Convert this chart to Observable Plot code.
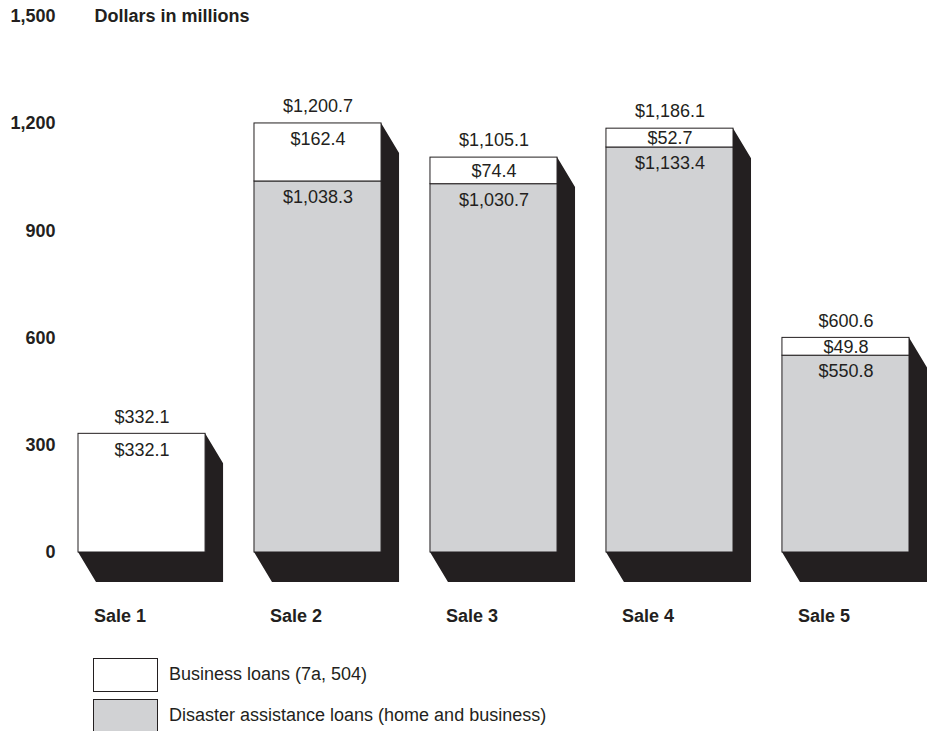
<!DOCTYPE html>
<html>
<head>
<meta charset="utf-8">
<script src="https://cdn.jsdelivr.net/npm/d3@7"></script>
<script src="https://cdn.jsdelivr.net/npm/@observablehq/plot@0.6"></script>
<style>
  body { margin: 0; background: #fff; font-family: "Liberation Sans", Arial, sans-serif; color: #231f20; }
  #legend { padding-left: 93px; margin-top: 8px; }
  .row { display: flex; align-items: center; height: 33px; margin-bottom: 8px; }
  .box { width: 63px; height: 32px; border: 1px solid #231f20; }
  .lbl { margin-left: 11px; font-size: 18px; }
</style>
</head>
<body>
<div id="chart"></div>
<div id="legend"></div>
<script>
const categories = ["Sale 1", "Sale 2", "Sale 3", "Sale 4", "Sale 5"];
const business = [332.1, 162.4, 74.4, 52.7, 49.8];
const disaster = [0, 1038.3, 1030.7, 1133.4, 550.8];
const totals = [332.1, 1200.7, 1105.1, 1186.1, 600.6];
const yTicks = [0, 300, 600, 900, 1200, 1500];
const seriesNames = ["Business loans (7a, 504)", "Disaster assistance loans (home and business)"];
const colors = { business: "#ffffff", disaster: "#d1d2d4", shadow: "#231f20", ink: "#231f20" };

const money = v => "$" + d3.format(",.1f")(v);

const totalRows = categories.map((c, i) => ({ cat: c, total: totals[i] }));
const segments = categories.flatMap((c, i) => [
  { cat: c, type: "disaster", y1: 0, y2: disaster[i], value: disaster[i] },
  { cat: c, type: "business", y1: disaster[i], y2: disaster[i] + business[i], value: business[i] }
]).filter(d => d.value > 0);

const DX = 18, DY = 30;

function shadowRender(index, scales, values, dimensions, context, next) {
  const g = next(index, scales, values, dimensions, context);
  const out = d3.create("svg:g");
  g.querySelectorAll("rect").forEach(r => {
    const x = +r.getAttribute("x"), y = +r.getAttribute("y");
    const w = +r.getAttribute("width"), h = +r.getAttribute("height");
    const L = x, R = x + w, T = y, B = y + h;
    out.append("path")
      .attr("d", `M${L},${B}L${L + DX},${B + DY}L${R + DX},${B + DY}L${R + DX},${T + DY}L${R},${T}L${R},${B}Z`)
      .attr("fill", colors.shadow);
  });
  return out.node();
}

const chart = Plot.plot({
  width: 931,
  height: 650,
  marginLeft: 78,
  marginRight: 22,
  marginTop: 16,
  marginBottom: 98,
  style: { fontFamily: '"Liberation Sans", Arial, sans-serif', fontSize: "18px", color: colors.ink, background: "#fff" },
  x: { domain: categories, paddingInner: 0.278, paddingOuter: 0, round: false, axis: null },
  y: { domain: [0, 1500], axis: null },
  marks: [
    Plot.barY(totalRows, { x: "cat", y: "total", fill: colors.shadow, render: shadowRender }),
    Plot.rectY(segments, { x: "cat", y1: "y1", y2: "y2", fill: d => colors[d.type], stroke: colors.ink, strokeWidth: 1 }),
    // segment labels (tall segments: near top; thin segments: centered)
    Plot.text(segments.filter(d => d.value >= 100), { x: "cat", y: "y2", text: d => money(d.value), dy: 16, fill: colors.ink, fontSize: 18 }),
    Plot.text(segments.filter(d => d.value < 100), { x: "cat", y: d => (d.y1 + d.y2) / 2, text: d => money(d.value), fill: colors.ink, fontSize: 18 }),
    Plot.text(totalRows, { x: "cat", y: "total", text: d => money(d.total), dy: -17, fill: colors.ink, fontSize: 18 }),
    Plot.axisY({ ticks: yTicks, tickSize: 0, tickPadding: 23, tickFormat: d3.format(","), fontWeight: "bold", fontSize: 18, label: null, fill: colors.ink }),
    Plot.text(categories, { x: d => d, frameAnchor: "bottom", lineAnchor: "middle", dy: 64, dx: -48, textAnchor: "start", fontWeight: "bold", fontSize: 18, fill: colors.ink }),
    Plot.text(["Dollars in millions"], { frameAnchor: "top-left", lineAnchor: "middle", dx: 16, textAnchor: "start", fontWeight: "bold", fontSize: 18, fill: colors.ink })
  ]
});
document.getElementById("chart").appendChild(chart);

const legend = d3.select("#legend");
[[seriesNames[0], colors.business], [seriesNames[1], colors.disaster]].forEach(([name, fill]) => {
  const row = legend.append("div").attr("class", "row");
  row.append("div").attr("class", "box").style("background", fill);
  row.append("div").attr("class", "lbl").text(name);
});
</script>
</body>
</html>
